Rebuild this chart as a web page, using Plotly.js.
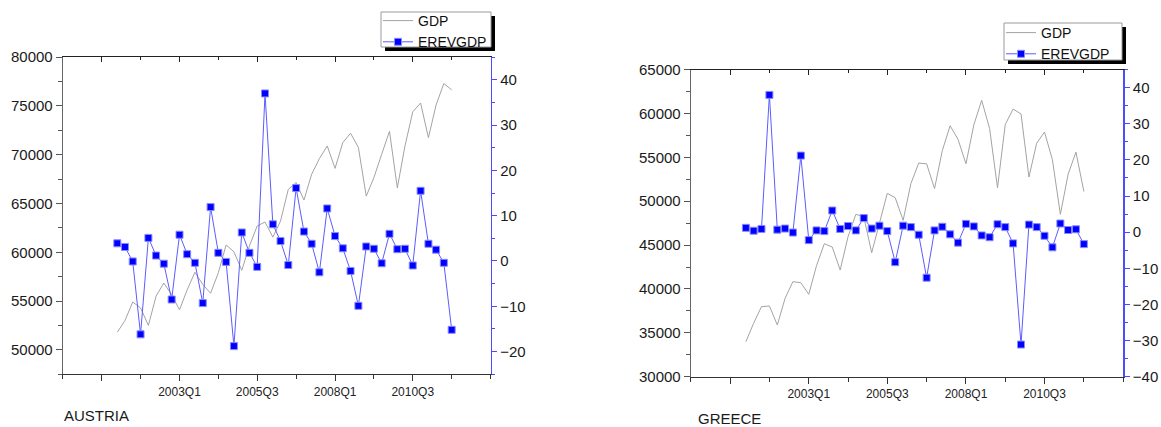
<!DOCTYPE html>
<html>
<head>
<meta charset="utf-8">
<script src="https://cdn.plot.ly/plotly-3.0.1.min.js"></script>
<style>html,body{margin:0;padding:0;background:#fff;}#chart{width:1161px;height:427px;}</style>
</head>
<body>
<div id="chart"></div>
<script>
// ---- data ----
const quarters = ['2001Q1','2001Q2','2001Q3','2001Q4','2002Q1','2002Q2','2002Q3','2002Q4',
  '2003Q1','2003Q2','2003Q3','2003Q4','2004Q1','2004Q2','2004Q3','2004Q4',
  '2005Q1','2005Q2','2005Q3','2005Q4','2006Q1','2006Q2','2006Q3','2006Q4',
  '2007Q1','2007Q2','2007Q3','2007Q4','2008Q1','2008Q2','2008Q3','2008Q4',
  '2009Q1','2009Q2','2009Q3','2009Q4','2010Q1','2010Q2','2010Q3','2010Q4',
  '2011Q1','2011Q2','2011Q3','2011Q4'];

const austriaGDP = [51800,53000,54900,54300,52500,55500,56850,55650,54100,56150,
  57950,56700,55800,57900,60750,60050,58150,60650,62700,63100,
  61550,63200,66450,67150,65350,68000,69600,70900,68600,71250,
  72200,70750,65750,67650,70050,72400,66600,70900,74400,75300,
  71750,75100,77300,76650];
const austriaEREV = [3.9,3.1,-0.1,-16.2,5.1,1.2,-0.6,-8.5,5.8,1.5,
  -0.4,-9.3,11.9,1.8,-0.2,-18.8,6.3,1.8,-1.3,37.0,
  8.1,4.4,-0.9,16.1,6.5,3.8,-2.5,11.6,5.5,2.8,
  -2.2,-9.9,3.2,2.7,-0.5,6.0,2.6,2.7,-1.0,15.5,
  3.8,2.5,-0.4,-15.2];

const greeceGDP = [33990,36090,37980,38060,35890,38930,40830,40710,39390,42650,
  45160,44780,42160,45950,48510,48240,44130,47480,50900,50400,
  47820,52000,54350,54250,51440,55770,58600,57040,54270,58700,
  61500,58300,51530,58750,60500,59950,52750,56620,57880,54720,
  48500,53070,55600,51110];
const greeceEREV = [1.2,0.4,0.9,38.0,0.7,1.0,-0.1,21.2,-2.2,0.5,
  0.3,6.0,0.9,1.7,0.5,3.9,1.0,1.8,0.3,-8.3,
  1.8,1.4,-0.7,-12.6,0.5,1.5,-0.6,-2.9,2.3,1.6,
  -0.9,-1.4,2.2,1.4,-3.1,-31.1,2.1,1.4,-1.0,-4.2,
  2.4,0.6,0.8,-3.3];

const seriesNames = ['GDP', 'EREVGDP'];
const countryNames = ['AUSTRIA', 'GREECE'];
const xRangeQuarters = ['1999Q2', '2013Q1'];
const majorTickQuarters = ['2000Q3', '2003Q1', '2005Q3', '2008Q1', '2010Q3'];
const majorTickLabels = ['', '2003Q1', '2005Q3', '2008Q1', '2010Q3'];
const minorTickQuarters = ['1999Q2', '2001Q4', '2004Q2', '2006Q4', '2009Q2', '2011Q4', '2013Q1'];
const austriaGDPRange = [47500, 80000];
const austriaEREVRange = [-25, 45];
const greeceGDPRange = [30000, 65000];
const greeceEREVRange = [-40, 45];

// ---- helpers ----
function qd(q) {
  const m = (parseInt(q.slice(5), 10) - 1) * 3 + 1;
  return q.slice(0, 4) + '-' + String(m).padStart(2, '0') + '-01';
}
const W = 1161, H = 427;
const px = p => p / W;
const py = p => 1 - p / H;
const FONT = 'Liberation Sans, Arial, Helvetica, sans-serif';
const xDates = quarters.map(qd);

const gdpStyle = {color: '#a3a3a3', width: 1};
const erevLine = {color: '#5c5cff', width: 1};
const erevMarker = {symbol: 'square', size: 7, color: '#0000ff', line: {color: '#8a8aff', width: 1}};

const traces = [
  {x: xDates, y: austriaGDP, xaxis: 'x', yaxis: 'y', type: 'scatter', mode: 'lines',
   name: seriesNames[0], line: gdpStyle, legend: 'legend'},
  {x: xDates, y: austriaEREV, xaxis: 'x', yaxis: 'y2', type: 'scatter', mode: 'lines+markers',
   name: seriesNames[1], line: erevLine, marker: erevMarker, legend: 'legend'},
  {x: xDates, y: greeceGDP, xaxis: 'x2', yaxis: 'y3', type: 'scatter', mode: 'lines',
   name: seriesNames[0], line: gdpStyle, legend: 'legend2'},
  {x: xDates, y: greeceEREV, xaxis: 'x2', yaxis: 'y4', type: 'scatter', mode: 'lines+markers',
   name: seriesNames[1], line: erevLine, marker: erevMarker, legend: 'legend2'},
  // carriers for the top (inward-tick) frame axes
  {x: [xDates[0]], y: [null], xaxis: 'x3', yaxis: 'y', mode: 'lines', showlegend: false, hoverinfo: 'skip'},
  {x: [xDates[0]], y: [null], xaxis: 'x4', yaxis: 'y3', mode: 'lines', showlegend: false, hoverinfo: 'skip'}
];

const xRange = xRangeQuarters.map(qd);
function bottomX(domain, anchor) {
  return {
    domain: domain, anchor: anchor, type: 'date', range: xRange,
    tickmode: 'array', tickvals: majorTickQuarters.map(qd), ticktext: majorTickLabels,
    ticks: 'outside', ticklen: 6, tickwidth: 1, tickcolor: '#333',
    showline: true, linecolor: '#333', linewidth: 1,
    showgrid: false, zeroline: false,
    tickfont: {size: 12, color: '#222'},
    minor: {tickmode: 'array', tickvals: minorTickQuarters.map(qd), ticks: 'outside',
            ticklen: 4, tickwidth: 1, tickcolor: '#333', showgrid: false}
  };
}
function topX(over, anchor) {
  return {
    overlaying: over, anchor: anchor, side: 'top', type: 'date', range: xRange,
    tickmode: 'array', tickvals: majorTickQuarters.map(qd), ticktext: majorTickLabels,
    showticklabels: false,
    ticks: 'inside', ticklen: 5, tickwidth: 1, tickcolor: '#222',
    showline: true, linecolor: '#222', linewidth: 1,
    showgrid: false, zeroline: false,
    minor: {tickmode: 'array', tickvals: minorTickQuarters.map(qd), ticks: 'inside',
            ticklen: 3, tickwidth: 1, tickcolor: '#222', showgrid: false}
  };
}
function leftY(domain, anchor, range) {
  return {
    domain: domain, anchor: anchor, range: range, tick0: 0, dtick: 5000,
    tickformat: 'd', exponentformat: 'none',
    ticks: 'outside', ticklen: 6, tickwidth: 1, tickcolor: '#555',
    showline: true, linecolor: '#666', linewidth: 1,
    showgrid: false, zeroline: false,
    tickfont: {size: 15, color: '#1a1a1a'},
    minor: {dtick: 2500, tick0: 0, ticks: 'outside', ticklen: 4, tickwidth: 1, tickcolor: '#555', showgrid: false}
  };
}
function rightY(over, anchor, range) {
  return {
    overlaying: over, anchor: anchor, side: 'right', range: range, tick0: 0, dtick: 10,
    ticks: 'outside', ticklen: 5, tickwidth: 1, tickcolor: '#4b4bff',
    showline: true, linecolor: '#4b4bff', linewidth: 1.5,
    showgrid: false, zeroline: false,
    tickfont: {size: 15, color: '#1a1a1a'},
    minor: {dtick: 5, tick0: 0, ticks: 'outside', ticklen: 3, tickwidth: 1, tickcolor: '#4b4bff', showgrid: false}
  };
}

const legendBase = {
  xanchor: 'left', yanchor: 'top', bgcolor: 'rgba(0,0,0,0)', borderwidth: 0,
  font: {family: FONT, size: 14, color: '#111'}, tracegroupgap: 0, itemwidth: 30
};

function boxShapes(x0, y0, x1, y1) {
  return [
    {type: 'rect', xref: 'paper', yref: 'paper', layer: 'below',
     x0: px(x0 + 4), x1: px(x1 + 4), y0: py(y1 + 4), y1: py(y0 + 4),
     fillcolor: '#000', line: {width: 0}},
    {type: 'rect', xref: 'paper', yref: 'paper', layer: 'below',
     x0: px(x0), x1: px(x1), y0: py(y1), y1: py(y0),
     fillcolor: '#fff', line: {color: '#9a9a9a', width: 1}}
  ];
}

const layout = {
  width: W, height: H, autosize: false,
  margin: {l: 0, r: 0, t: 0, b: 0, pad: 0},
  paper_bgcolor: '#fff', plot_bgcolor: '#fff',
  font: {family: FONT, size: 15, color: '#1a1a1a'},
  showlegend: true,
  xaxis: bottomX([px(62.7), px(490.7)], 'y'),
  yaxis: leftY([py(374.2), py(57.2)], 'x', austriaGDPRange),
  yaxis2: rightY('y', 'x', austriaEREVRange),
  xaxis3: topX('x', 'y'),
  xaxis2: bottomX([px(690.7), px(1123.3)], 'y3'),
  yaxis3: leftY([py(376.7), py(69.6)], 'x2', greeceGDPRange),
  yaxis4: rightY('y3', 'x2', greeceEREVRange),
  xaxis4: topX('x2', 'y3'),
  legend: Object.assign({x: px(378), y: py(5)}, legendBase),
  legend2: Object.assign({x: px(1001), y: py(17)}, legendBase),
  shapes: [].concat(boxShapes(381, 12, 491, 47), boxShapes(1004, 23, 1122, 60)),
  annotations: [
    {text: countryNames[0], xref: 'paper', yref: 'paper', x: px(62), y: py(415),
     xanchor: 'left', yanchor: 'middle', showarrow: false, font: {size: 15, color: '#1a1a1a'}},
    {text: countryNames[1], xref: 'paper', yref: 'paper', x: px(696), y: py(418),
     xanchor: 'left', yanchor: 'middle', showarrow: false, font: {size: 15, color: '#1a1a1a'}}
  ]
};

Plotly.newPlot('chart', traces, layout, {displayModeBar: false, staticPlot: true});
</script>
</body>
</html>
